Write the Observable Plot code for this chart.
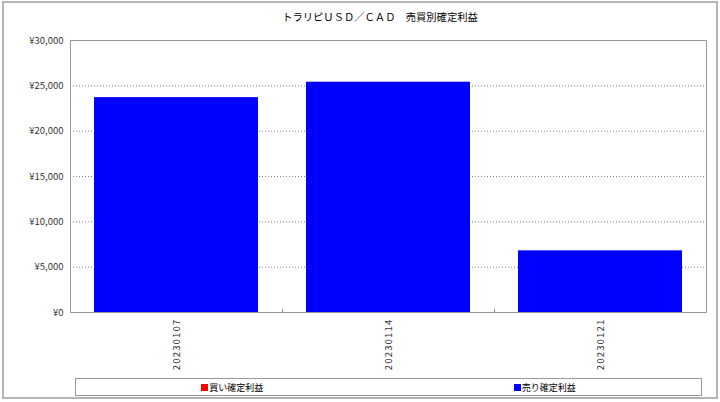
<!DOCTYPE html>
<html><head><meta charset="utf-8">
<script src="https://cdn.jsdelivr.net/npm/d3@7"></script>
<script src="https://cdn.jsdelivr.net/npm/@observablehq/plot@0.6"></script>
<style>
body{margin:0;background:#fff;}
#chart{position:relative;width:720px;height:402px;overflow:hidden;font-family:"Noto Sans CJK JP",sans-serif;background:#fff;}
#border{position:absolute;left:2px;top:1px;width:716px;height:398px;border:2px solid #b4b4b4;box-sizing:border-box;pointer-events:none;}
#title{position:absolute;left:20px;top:10px;width:720px;text-align:center;font-size:10.3px;line-height:14px;color:#000;}
#plot{position:absolute;left:0;top:0;}
#legend{position:absolute;left:75px;top:378px;width:627px;height:18px;border:1px solid #999;box-sizing:border-box;display:flex;font-size:9px;color:#000;}
#legend .item{flex:1;display:flex;justify-content:center;align-items:center;}
#legend .sw{display:inline-block;width:7px;height:7px;margin-right:1px;}
</style>
</head><body>
<div id="chart">
  <div id="plot"></div>
  <div id="title"></div>
  <div id="legend"></div>
  <div id="border"></div>
</div>
<script>
const title = "トラリピＵＳＤ／ＣＡＤ　売買別確定利益";
const dates = ["20230107", "20230114", "20230121"];
const buyProfit = [0, 0, 0];
const sellProfit = [23700, 25400, 6800];
const seriesNames = ["買い確定利益", "売り確定利益"];
const seriesColors = ["#ff0000", "#0000ff"];
const yTicks = [0, 5000, 10000, 15000, 20000, 25000, 30000];

const rows = [];
dates.forEach((d, i) => {
  rows.push({date: d, series: seriesNames[0], value: buyProfit[i]});
  rows.push({date: d, series: seriesNames[1], value: sellProfit[i]});
});

const W = 720, H = 378, mL = 70, mR = 14, mT = 40, mB = 66;
const step = (W - mL - mR) / dates.length;
const plotH = H - mT - mB;

const chart = Plot.plot({
  width: W, height: H,
  marginLeft: mL, marginRight: mR, marginTop: mT, marginBottom: mB,
  style: {fontFamily: '"Noto Sans CJK JP", sans-serif', background: "transparent"},
  x: {type: "band", domain: dates, padding: 0},
  y: {domain: [0, 30000]},
  color: {domain: seriesNames, range: seriesColors},
  marks: [
    Plot.gridY(yTicks.slice(1, -1), {stroke: "#808080", strokeOpacity: 1, strokeDasharray: "1,2"}),
    Plot.barY(rows, {x: "date", y: "value", fill: "series", insetLeft: 24, insetRight: 24}),
    Plot.frame({stroke: "#999"}),
    Plot.ruleX(dates.slice(1), {x: d => d, dx: -step / 2, insetTop: plotH - 3, stroke: "#888"}),
    Plot.axisY(yTicks, {tickSize: 0, tickPadding: 7, label: null, fontSize: 9.5, fill: "#333",
      tickFormat: d => "¥" + d3.format(",")(d)}),
    Plot.axisX({tickSize: 0, tickPadding: 6, tickRotate: -90, label: null, fontSize: 9.5, fill: "#333"})
  ]
});
chart.querySelectorAll('[aria-label="x-axis tick label"] text').forEach(t => t.setAttribute("letter-spacing", "1.2"));
document.getElementById("plot").appendChild(chart);
document.getElementById("title").textContent = title;

const legend = document.getElementById("legend");
seriesNames.forEach((name, i) => {
  const item = document.createElement("div");
  item.className = "item";
  const sw = document.createElement("span");
  sw.className = "sw";
  sw.style.background = seriesColors[i];
  const tx = document.createElement("span");
  tx.textContent = name;
  item.appendChild(sw);
  item.appendChild(tx);
  legend.appendChild(item);
});
</script>
</body></html>
